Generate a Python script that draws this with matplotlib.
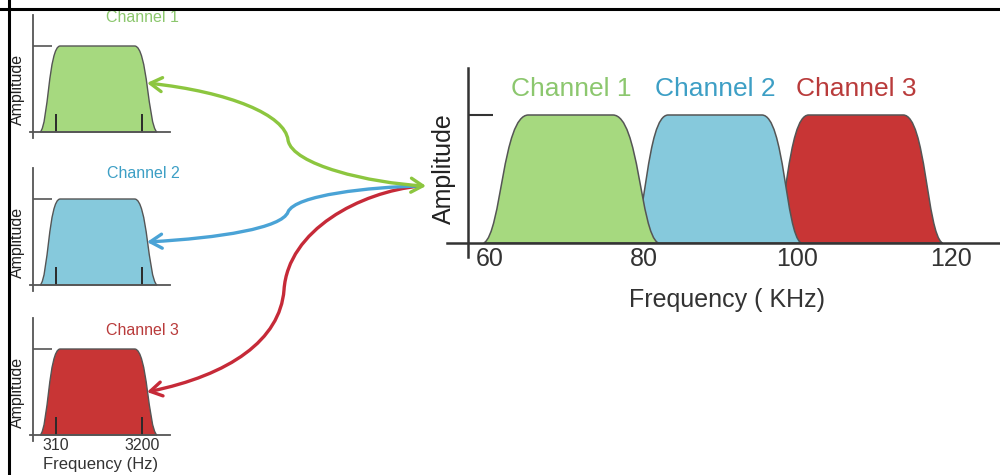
import matplotlib.pyplot as plt
from matplotlib.patches import PathPatch, FancyArrowPatch, ArrowStyle
from matplotlib.path import Path

plt.rcParams['font.family'] = ['Liberation Sans', 'DejaVu Sans']

# ---- values ----
CHANNELS = ["Channel 1", "Channel 2", "Channel 3"]

# multiplexed spectrum (kHz): left foot, left shoulder, right shoulder, right foot
MUX_FOOT_L = [59.2, 78.3, 96.6]
MUX_TOP_L = [65.0, 83.2, 101.5]
MUX_TOP_R = [76.0, 95.4, 113.8]
MUX_FOOT_R = [81.9, 100.5, 118.9]
MUX_TICKS = [60, 80, 100, 120]

# baseband voice channel (Hz), same shape for all three channels
BASE_FOOT_L = -220
BASE_TOP_L = 450
BASE_TOP_R = 2950
BASE_FOOT_R = 3700
BASE_TICKS = [310, 3200]

AMPLITUDE = 1.0

# ---- styles ----
FILL_COLORS = ['#a6d97f', '#86c9dc', '#c83535']
TEXT_COLORS = ['#8cc76e', '#3d9fc5', '#b93b3b']
ARROW_COLORS = ['#8cc63f', '#4aa3d6', '#c62a38']
EDGE = '#555555'
AXIS_COL = '#333333'

W, H = 1000, 475


def px_axes(fig, x0, y_top, x1, y_bot):
    # axes placed from pixel box (y measured from the top)
    return fig.add_axes([x0 / W, 1 - y_bot / H, (x1 - x0) / W, (y_bot - y_top) / H])


def band_path(fl, tl, tr, fr, a):
    """Flat-topped band outline made of two cubic bezier flanks (flared foot, round shoulder)."""
    dl, dr = tl - fl, fr - tr
    verts = [(fl, 0), (fl + 0.40 * dl, 0.08 * a), (fl + 0.42 * dl, a), (tl, a),
             (tr, a), (fr - 0.42 * dr, a), (fr - 0.40 * dr, 0.08 * a), (fr, 0),
             (fl, 0)]
    codes = [Path.MOVETO, Path.CURVE4, Path.CURVE4, Path.CURVE4,
             Path.LINETO, Path.CURVE4, Path.CURVE4, Path.CURVE4,
             Path.CLOSEPOLY]
    return Path(verts, codes)


def clean_axes(ax, origin_x, ybounds, lw, color):
    for side in ['top', 'right']:
        ax.spines[side].set_visible(False)
    ax.spines['bottom'].set_position(('data', 0))
    ax.spines['left'].set_position(('data', origin_x))
    ax.spines['left'].set_bounds(*ybounds)
    for side in ['bottom', 'left']:
        ax.spines[side].set_linewidth(lw)
        ax.spines[side].set_color(color)
    ax.patch.set_alpha(0)


fig = plt.figure(figsize=(10, 4.75), dpi=100)

# ============================================================
# left: three baseband channels
# ============================================================
panel_base = [132, 285, 435]
label_y = [1.33, 1.30, 1.22]
for i, base in enumerate(panel_base):
    ax = px_axes(fig, 30, base - 1.4 * 86, 170, base + 0.1 * 86)
    ax.set_xlim(-564, 4140)
    ax.set_ylim(-0.1, 1.4)
    clean_axes(ax, -463, (-0.07, 1.36), 1.3, EDGE)

    ax.add_patch(PathPatch(band_path(BASE_FOOT_L, BASE_TOP_L, BASE_TOP_R, BASE_FOOT_R, AMPLITUDE),
                           facecolor=FILL_COLORS[i], edgecolor=EDGE, lw=1.0, zorder=1))

    ax.set_yticks([AMPLITUDE])
    ax.tick_params(axis='y', direction='in', length=14, width=1.2, colors=EDGE, labelleft=False)
    ax.set_xticks(BASE_TICKS)
    ax.tick_params(axis='x', direction='in', length=13, width=1.4, color='#2a2a2a',
                   labelsize=11.5, labelcolor=AXIS_COL, pad=2)
    if i == 2:
        ax.set_xticklabels([str(t) for t in BASE_TICKS])
    else:
        ax.set_xticklabels([])

    ax.text(3230, label_y[i], CHANNELS[i], color=TEXT_COLORS[i], fontsize=11.5,
            ha='center', va='center')
    ax.text(-0.086, 0.5, "Amplitude", transform=ax.get_yaxis_transform(), rotation=90,
            fontsize=11.5, color='#222222', ha='center', va='center')

fig.text(101 / W, 1 - 465 / H, "Frequency (Hz)", fontsize=12, color=AXIS_COL,
         ha='center', va='center')

# ============================================================
# right: frequency division multiplexed spectrum
# ============================================================
ax = px_axes(fig, 447, 63.8, 1000, 268.6)
ax.set_xlim(54.40, 126.41)
ax.set_ylim(-0.2, 1.4)
clean_axes(ax, 57.1, (-0.11, 1.37), 1.8, AXIS_COL)

for i in range(len(CHANNELS)):
    ax.add_patch(PathPatch(band_path(MUX_FOOT_L[i], MUX_TOP_L[i], MUX_TOP_R[i], MUX_FOOT_R[i], AMPLITUDE),
                           facecolor=FILL_COLORS[i], edgecolor=EDGE, lw=1.1, zorder=2 - i * 0.3))
    center = (MUX_FOOT_L[i] + MUX_FOOT_R[i]) / 2
    ax.text(center, 1.20, CHANNELS[i], color=TEXT_COLORS[i], fontsize=19,
            ha='center', va='center')

ax.set_yticks([AMPLITUDE])
ax.tick_params(axis='y', direction='in', length=18, width=1.5, colors=AXIS_COL, labelleft=False)
ax.set_xticks(MUX_TICKS)
ax.set_xticklabels([str(t) for t in MUX_TICKS])
ax.tick_params(axis='x', length=0, labelsize=18, labelcolor=AXIS_COL, pad=3)

fig.text(444 / W, 1 - 169 / H, "Amplitude", rotation=90, fontsize=18, color='#222222',
         ha='center', va='center')
fig.text(727 / W, 1 - 300 / H, "Frequency ( KHz)", fontsize=18, color=AXIS_COL,
         ha='center', va='center')

# ============================================================
# overlay: arrows and frame, in pixel coordinates
# ============================================================
ov = fig.add_axes([0, 0, 1, 1])
ov.set_xlim(0, W)
ov.set_ylim(H, 0)
ov.axis('off')

ov.axhline(8.7, color='black', lw=2.2)
ov.axvline(9.3, color='black', lw=2.2)

arrow_paths = [
    [(147, 83), (230, 92), (285, 115), (288, 140), (292, 165), (370, 183), (426, 186)],
    [(147, 242), (220, 238), (282, 228), (288, 212), (295, 195), (370, 187), (420, 186)],
    [(147, 392), (230, 375), (280, 340), (284, 290), (288, 230), (360, 192), (420, 186)],
]
codes = [Path.MOVETO] + [Path.CURVE4] * 6
for i, pts in enumerate(arrow_paths):
    style = '<->' if i == 0 else '<-'
    arr = FancyArrowPatch(path=Path(pts, codes),
                          arrowstyle=ArrowStyle(style, head_length=0.7, head_width=0.42),
                          mutation_scale=12, color=ARROW_COLORS[i], lw=2.4,
                          transform=ov.transData, zorder=3 - i * 0.5)
    ov.add_patch(arr)

fig.savefig('out.png', dpi=100)
